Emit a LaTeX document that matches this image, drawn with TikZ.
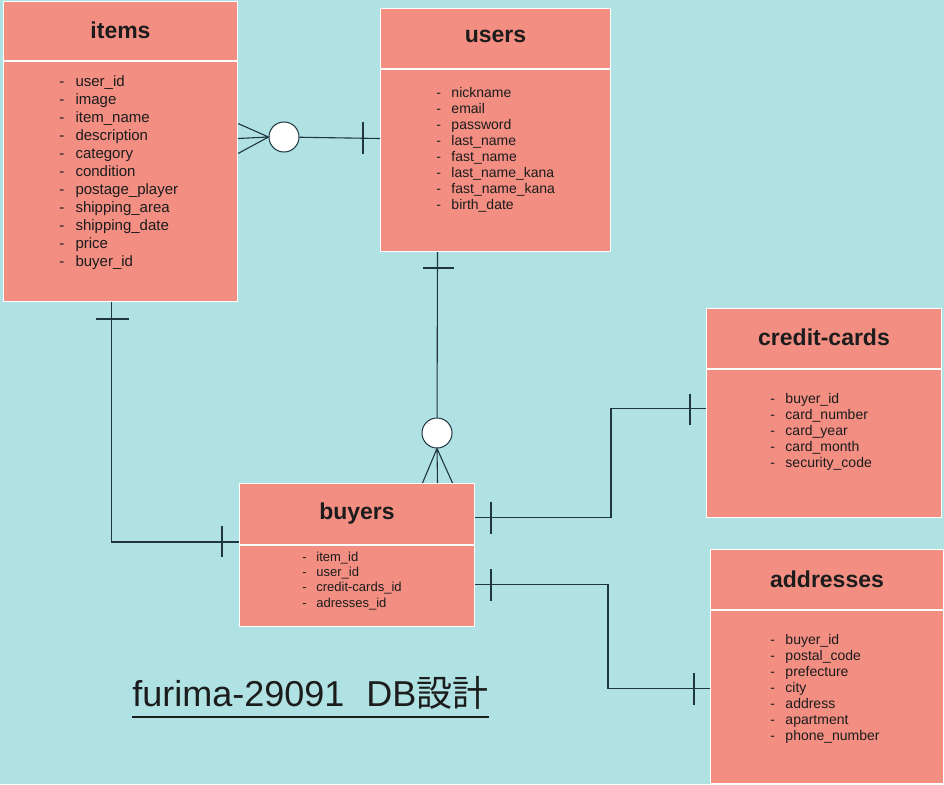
\documentclass[tikz,border=0pt]{standalone}
\usepackage{fontspec}
\setmainfont{Liberation Sans}
\newfontfamily\jpfont{Noto Sans CJK JP}
\usetikzlibrary{positioning}
\definecolor{bgcyan}{HTML}{B0E2E4}
\definecolor{tablered}{HTML}{F28E82}
\definecolor{linedark}{HTML}{1F3540}
\definecolor{inkgray}{HTML}{1C1C1C}
\newcommand{\fld}{-\hspace{.75em}}

\begin{document}
\begin{tikzpicture}[x=1pt, y=-1pt, semithick,
    head/.style={rectangle, draw=white, line width=1pt, fill=tablered, inner sep=0pt, text=inkgray, font=\bfseries\fontsize{23}{28}\selectfont},
    body/.style={rectangle, draw=white, line width=1pt, fill=tablered, inner sep=0pt},
    cols/.style={anchor=base west, align=left, inner sep=0pt, text=inkgray},
    rel/.style={draw=linedark, line width=1.1pt},
    zero/.style={circle, draw=linedark, line width=1pt, fill=white, minimum size=30pt, inner sep=0pt}]
      \fill[bgcyan] (0,0) rectangle (944,784);

      % tables
      \node[head, anchor=north west, minimum width=234pt, minimum height=59pt] (items) at (3,1) {\raisebox{2pt}{items}};
      \node[body, below=0pt of items, minimum width=234pt, minimum height=240pt] (items-body) {};
      \node[head, anchor=north west, minimum width=230pt, minimum height=60pt] (users) at (380,8) {\raisebox{4pt}{users}};
      \node[body, below=0pt of users, minimum width=230pt, minimum height=182pt] (users-body) {};
      \node[head, anchor=north west, minimum width=235pt, minimum height=60pt] (cards) at (706,308) {\raisebox{3pt}{credit-cards}};
      \node[body, below=0pt of cards, minimum width=235pt, minimum height=148pt] (cards-body) {};
      \node[head, anchor=north west, minimum width=235pt, minimum height=61pt] (buyers) at (239,483) {\raisebox{2pt}{buyers}};
      \node[body, below=0pt of buyers, minimum width=235pt, minimum height=81pt] (buyers-body) {};
      \node[head, anchor=north west, minimum width=233pt, minimum height=60pt] (addresses) at (710,549) {addresses};
      \node[body, below=0pt of addresses, minimum width=233pt, minimum height=173pt] (addresses-body) {};

      % columns
      \node[cols, font=\fontsize{15}{18}\selectfont] (items-cols) at (59,266) {\fld user\_id\\ \fld image\\ \fld item\_name\\ \fld description\\ \fld category\\ \fld condition\\ \fld postage\_player\\ \fld shipping\_area\\ \fld shipping\_date\\ \fld price\\ \fld buyer\_id};
      \node[cols, font=\fontsize{14}{16}\selectfont] (users-cols) at (436,209) {\fld nickname\\ \fld email\\ \fld password\\ \fld last\_name\\ \fld fast\_name\\ \fld last\_name\_kana\\ \fld fast\_name\_kana\\ \fld birth\_date};
      \node[cols, font=\fontsize{14}{16}\selectfont] (cards-cols) at (770,467) {\fld buyer\_id\\ \fld card\_number\\ \fld card\_year\\ \fld card\_month\\ \fld security\_code};
      \node[cols, font=\fontsize{13}{15.3}\selectfont] (buyers-cols) at (302,607) {\fld item\_id\\ \fld user\_id\\ \fld credit-cards\_id\\ \fld adresses\_id};
      \node[cols, font=\fontsize{14}{16}\selectfont] (addresses-cols) at (770,740) {\fld buyer\_id\\ \fld postal\_code\\ \fld prefecture\\ \fld city\\ \fld address\\ \fld apartment\\ \fld phone\_number};

      % items -- users
      \node[zero] (iu) at (284,137) {};
      \draw[rel] (iu) -- ([yshift=22pt]users-body.west);
      \draw[rel] ([yshift=58pt]items-body.east) -- (iu.west) -- ([yshift=28pt]items-body.east)
      ([yshift=43pt]items-body.east) -- (iu.west);
      \draw[rel] ([xshift=-17pt, yshift=39pt]users-body.west) -- ++(0,32);

      % users -- buyers
      \node[zero] (ub) at (437,433) {};
      \draw[rel] ([xshift=-58pt]users-body.south) -- (ub);
      \draw[rel] ([xshift=65.5pt]buyers.north) -- (ub.south) -- ([xshift=95.5pt]buyers.north)
      ([xshift=80.5pt]buyers.north) -- (ub.south);
      \draw[rel] ([xshift=-73pt, yshift=-16pt]users-body.south) -- ++(31,0);

      % items -- buyers
      \draw[rel] ([xshift=-9pt]items-body.south) |- ([yshift=-28pt]buyers.west);
      \draw[rel] ([xshift=-25pt, yshift=-17pt]items-body.south) -- ++(33,0);
      \draw[rel] ([xshift=-17pt, yshift=-11.5pt]buyers.west) -- ++(0,31);

      % buyers -- credit-cards
      \draw[rel] ([yshift=-3.5pt]buyers.east) -- ++(136,0) |- ([yshift=35pt]cards-body.west);
      \draw[rel] ([xshift=16pt, yshift=12.5pt]buyers.east) -- ++(0,32);
      \draw[rel] ([xshift=-16pt, yshift=50pt]cards-body.west) -- ++(0,31);

      % buyers -- addresses
      \draw[rel] ([yshift=1.5pt]buyers-body.east) -- ++(133,0) |- ([yshift=8.5pt]addresses-body.west);
      \draw[rel] ([xshift=16pt, yshift=17.5pt]buyers-body.east) -- ++(0,32);
      \draw[rel] ([xshift=-16pt, yshift=24.5pt]addresses-body.west) -- ++(0,32);

      % title
      \node[anchor=base west, inner sep=0pt, text=inkgray, font=\fontsize{36}{42}\selectfont] (title) at (132,706) {furima-29091\hspace{22pt}DB{\jpfont 設計}};
      \draw[inkgray, line width=2pt] ([yshift=-11pt]title.base west) -- ([yshift=-11pt]title.base east);
\end{tikzpicture}
\end{document}
